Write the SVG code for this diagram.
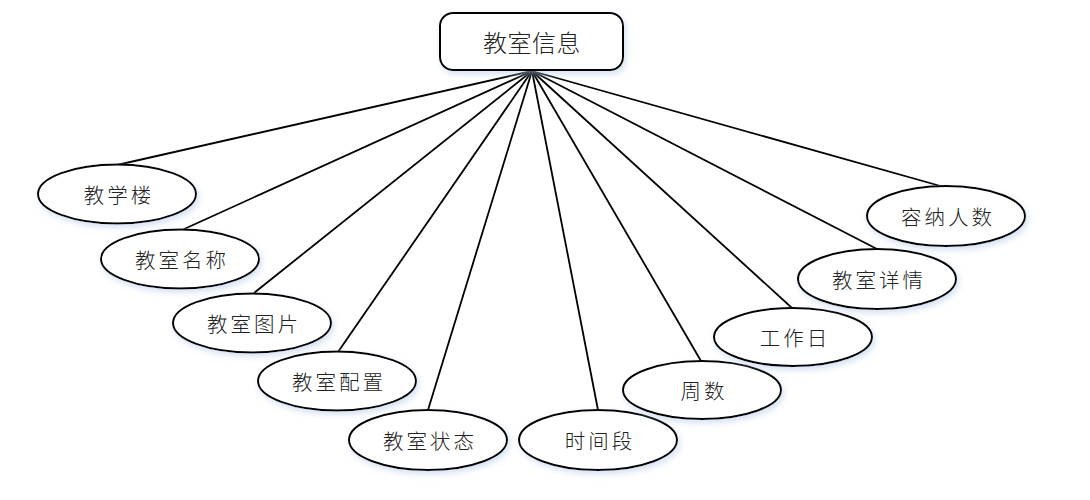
<svg xmlns="http://www.w3.org/2000/svg" width="1090" height="500" viewBox="0 0 1090 500">
<defs>
<filter id="sh" x="-20%" y="-30%" width="140%" height="160%">
<feGaussianBlur in="SourceAlpha" stdDeviation="3" result="b"/>
<feOffset in="b" dx="2" dy="3" result="o"/>
<feFlood flood-color="#b8cbe8" flood-opacity="0.6"/>
<feComposite in2="o" operator="in" result="s"/>
<feMerge><feMergeNode in="s"/><feMergeNode in="SourceGraphic"/></feMerge>
</filter>
<style>
.n{fill:#fff;stroke:#000;stroke-width:2;filter:url(#sh)}
.t{font-family:"Noto Sans CJK SC","Liberation Sans",sans-serif;font-weight:300;font-size:20.5px;fill:#222;text-anchor:middle;dominant-baseline:central;letter-spacing:3px}
.tt{font-size:24px;letter-spacing:0.5px}
.c line{stroke:#000;stroke-width:1.8}
</style>
</defs>
<rect width="1090" height="500" fill="#fff"/>
<g class="c">
<line x1="532" y1="71" x2="117" y2="165"/>
<line x1="532" y1="71" x2="182" y2="230"/>
<line x1="532" y1="71" x2="254" y2="293"/>
<line x1="532" y1="71" x2="338" y2="352"/>
<line x1="532" y1="71" x2="428" y2="410"/>
<line x1="532" y1="71" x2="598" y2="410"/>
<line x1="532" y1="71" x2="701" y2="361"/>
<line x1="532" y1="71" x2="792" y2="308"/>
<line x1="532" y1="71" x2="877" y2="249"/>
<line x1="532" y1="71" x2="944" y2="187"/>
</g>
<g id="root"><rect class="n" x="440" y="13" width="183" height="57" rx="13"/><text class="t tt" x="532" y="41">教室信息</text></g>
<g id="n1"><ellipse class="n" cx="117" cy="194" rx="79" ry="29.5"/><text class="t" x="119" y="194">教学楼</text></g>
<g id="n2"><ellipse class="n" cx="180" cy="259" rx="79" ry="29.5"/><text class="t" x="182" y="259">教室名称</text></g>
<g id="n3"><ellipse class="n" cx="252" cy="323" rx="79" ry="29.5"/><text class="t" x="254" y="323">教室图片</text></g>
<g id="n4"><ellipse class="n" cx="337" cy="381" rx="79" ry="29.5"/><text class="t" x="339" y="381">教室配置</text></g>
<g id="n5"><ellipse class="n" cx="428" cy="440" rx="79" ry="30"/><text class="t" x="430" y="440">教室状态</text></g>
<g id="n6"><ellipse class="n" cx="598" cy="440" rx="79" ry="30"/><text class="t" x="600" y="440">时间段</text></g>
<g id="n7"><ellipse class="n" cx="702" cy="390" rx="79" ry="29"/><text class="t" x="704" y="390">周数</text></g>
<g id="n8"><ellipse class="n" cx="793" cy="337" rx="79" ry="29"/><text class="t" x="795" y="337">工作日</text></g>
<g id="n9"><ellipse class="n" cx="877" cy="279" rx="79" ry="30"/><text class="t" x="879" y="279">教室详情</text></g>
<g id="n10"><ellipse class="n" cx="946" cy="216" rx="79" ry="30"/><text class="t" x="948" y="216">容纳人数</text></g>
</svg>
